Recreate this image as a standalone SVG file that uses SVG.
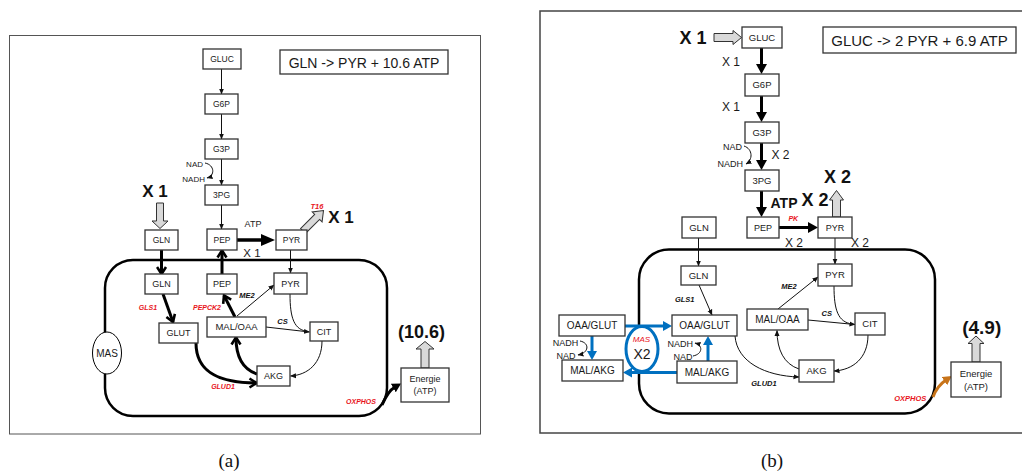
<svg xmlns="http://www.w3.org/2000/svg" width="1022" height="474" viewBox="0 0 1022 474">
<style>
.box{fill:#fff;stroke:#333;stroke-width:1.3}
.t{font-family:"Liberation Sans",Arial,sans-serif;text-anchor:middle;fill:#1a1a1a}
.s85{font-size:8.5px}.s9{font-size:9px}.s95{font-size:9.5px}
.thin{stroke:#111;stroke-width:1;fill:none;marker-end:url(#ah)}
.line{stroke:#111;stroke-width:1;fill:none}
.thick{stroke:#000;stroke-width:3;fill:none}
.chev{marker-end:url(#chev)}
.enz{font-family:"Liberation Sans",Arial,sans-serif;font-style:italic;font-weight:bold;font-size:7px;fill:#e8141c;text-anchor:middle}
.enzb{font-family:"Liberation Sans",Arial,sans-serif;font-style:italic;font-weight:bold;font-size:7.5px;fill:#111;text-anchor:middle}
.blue{stroke:#0070c0;stroke-width:3;fill:none;marker-end:url(#bl)}
.hollow{fill:#d9d9d9;stroke:#333;stroke-width:1}
.bold{font-family:"Liberation Sans",Arial,sans-serif;font-weight:bold;text-anchor:middle;fill:#111}
.mem{fill:none;stroke:#000;stroke-width:2.5}
</style>
<defs>
<marker id="ah" viewBox="0 0 6 6" refX="5.5" refY="3" markerWidth="6" markerHeight="6" markerUnits="userSpaceOnUse" orient="auto"><path d="M0,0.5 L6,3 L0,5.5z" fill="#111"/></marker>
<marker id="big" viewBox="0 0 10 11" refX="3" refY="5.5" markerWidth="10" markerHeight="11" markerUnits="userSpaceOnUse" orient="auto"><path d="M0,0 L10,5.5 L0,11z" fill="#000"/></marker>
<marker id="big14" viewBox="0 0 14 12" refX="3" refY="6" markerWidth="14" markerHeight="12" markerUnits="userSpaceOnUse" orient="auto"><path d="M0,0 L14,6 L0,12z" fill="#000"/></marker>
<marker id="bl" viewBox="0 0 9 10" refX="2" refY="5" markerWidth="9" markerHeight="10" markerUnits="userSpaceOnUse" orient="auto"><path d="M0,0 L9,5 L0,10z" fill="#0070c0"/></marker>
<marker id="or" viewBox="0 0 9 10" refX="2" refY="5" markerWidth="9" markerHeight="10" markerUnits="userSpaceOnUse" orient="auto"><path d="M0,0 L9,5 L0,10z" fill="#c8741a"/></marker>
<marker id="bk" viewBox="0 0 9 10" refX="2" refY="5" markerWidth="9" markerHeight="10" markerUnits="userSpaceOnUse" orient="auto"><path d="M0,0 L9,5 L0,10z" fill="#000"/></marker>
<marker id="chev" viewBox="0 0 12 12" refX="9" refY="6" markerWidth="12" markerHeight="12" markerUnits="userSpaceOnUse" orient="auto"><path d="M2,1.5 L9,6 L2,10.5" fill="none" stroke="#000" stroke-width="2.6"/></marker>
</defs>

<!-- frames -->
<rect x="9.5" y="35.5" width="471" height="398.5" fill="none" stroke="#555" stroke-width="1"/>
<rect x="540" y="11" width="490" height="422" fill="none" stroke="#444" stroke-width="1.5"/>

<!-- membranes -->
<rect id="membrane-a" class="mem" x="105" y="260" width="282" height="156" rx="28"/>
<rect id="membrane-b" class="mem" x="639" y="249.5" width="296" height="164" rx="30"/>

<!-- MAS ellipse b (below arrows) -->
<g id="mas-b"><ellipse cx="642" cy="349" rx="16" ry="22.5" fill="#fff" stroke="#0070c0" stroke-width="3"/>
<text x="641.5" y="342" style="font-family:'Liberation Sans',Arial,sans-serif;font-style:italic;font-size:8px;fill:#e8141c;text-anchor:middle">MAS</text>
<text class="t" style="font-size:14px" x="642" y="359">X2</text></g>

<!-- connectors -->
<g id="connectors">
  <!-- panel a -->
  <path class="thin" d="M221.5,69 V94"/>
  <path class="thin" d="M221.5,114 V139"/>
  <path class="thin" d="M221.5,159 V185"/>
  <path class="thin" d="M221.5,205 V229"/>
  <path class="thin" d="M205,163 C215,165 215,176 207,178"/>
  <path class="thick" style="stroke-width:3.5" marker-end="url(#big14)" d="M237,240 H264"/>
  <path class="thick chev" d="M161.5,250 V274"/>
  <path class="thick chev" d="M222,274 V250.5"/>
  <path class="thin" d="M290.5,250 V273"/>
  <path class="thick chev" d="M163,294 L173,322"/>
  <path class="thick chev" d="M235,317 L224,295.5"/>
  <path class="thin" d="M237,316 L274,285"/>
  <path class="thin" d="M266,327 L309.5,332"/>
  <path class="line" d="M290,294 C290,318 294,330 308,331.5"/>
  <path class="thin" d="M322,341 C322,363 308,375 290.5,376"/>
  <path class="thick chev" d="M257,374 C242,369 236,356 236,337.5"/>
  <path class="thick chev" d="M196,343 C196,374 222,383 256.5,383"/>
  <path class="thick" marker-end="url(#bk)" d="M382,405 Q388,391 395,387"/>
  <!-- panel b -->
  <path class="thick" marker-end="url(#big)" d="M761.5,48 V67"/>
  <path class="thick" marker-end="url(#big)" d="M761.5,96 V115"/>
  <path class="thick" marker-end="url(#big)" d="M761.5,143 V163"/>
  <path class="thick" marker-end="url(#big)" d="M761.5,191 V210"/>
  <path class="thin" d="M744,146 C753,149 753,160 746,164"/>
  <path class="thick" marker-end="url(#big)" d="M779,227.5 H811"/>
  <path class="thin" d="M698.5,238 V266"/>
  <path class="thin" d="M835,238 V264"/>
  <path class="thin" d="M699,285 L712,315"/>
  <path class="thin" d="M778,309 L818,277"/>
  <path class="thin" d="M808,320 L855,324.5"/>
  <path class="line" d="M834,286 C834,310 838,322 852,324"/>
  <path class="thin" d="M868,335 C868,358 853,370 834,371"/>
  <path class="thin" d="M799,369 C784,364 777,350 777,330.5"/>
  <path class="thin" d="M735,336 C737,362 765,376 799,377"/>
  <path class="blue" d="M625,326 H665"/>
  <path class="blue" d="M677,372.5 H630"/>
  <path class="blue" d="M592,336 V353"/>
  <path class="blue" d="M708,361 V343"/>
  <path class="thin" d="M580,341 C590,343 589,353 578,355"/>
  <path class="thin" d="M693,356 C703,354 703,345 695,343"/>
  <path stroke="#c8741a" stroke-width="3" fill="none" marker-end="url(#or)" d="M933,397 Q937,386 946,380"/>
</g>

<!-- hollow arrows -->
<g id="hollow-arrows">
  <polygon class="hollow" points="156.5,203 163.5,203 163.5,221 168,221 160,228.5 152,221 156.5,221"/>
  <polygon class="hollow" transform="translate(303,231) rotate(-45)" points="0,-3.5 20,-3.5 20,-7 29,0 20,7 20,3.5 0,3.5"/>
  <polygon class="hollow" points="421,368 421,349 416,349 425,341.5 434,349 429,349 429,368"/>
  <polygon class="hollow" points="714,33.5 733,33.5 733,30.5 741.5,37.5 733,44.5 733,41.5 714,41.5"/>
  <polygon class="hollow" points="832.5,217 832.5,200 829.5,200 836.5,190.5 843.5,200 840.5,200 840.5,217"/>
  <polygon class="hollow" points="972,362 972,343.5 968,343.5 976,336 984,343.5 980,343.5 980,362"/>
</g>

<!-- MAS ellipse a -->
<g id="mas-a"><ellipse cx="107" cy="353" rx="14.5" ry="21" fill="#fff" stroke="#000" stroke-width="1"/><text class="t" style="font-size:10px" x="107" y="356.5">MAS</text></g>

<!-- panel a nodes -->
<g id="a-gluc"><rect class="box" x="203" y="49" width="38" height="20"/><text class="t s85" x="222" y="62">GLUC</text></g>
<g id="a-g6p"><rect class="box" x="205" y="94" width="33" height="20"/><text class="t s85" x="221.5" y="107">G6P</text></g>
<g id="a-g3p"><rect class="box" x="205" y="139" width="33" height="20"/><text class="t s85" x="221.5" y="152">G3P</text></g>
<g id="a-3pg"><rect class="box" x="205" y="185" width="33" height="20"/><text class="t s85" x="221.5" y="198">3PG</text></g>
<g id="a-pep-out"><rect class="box" x="207" y="229" width="30" height="21"/><text class="t s85" x="222" y="242.5">PEP</text></g>
<g id="a-pyr-out"><rect class="box" x="276" y="230" width="31" height="20"/><text class="t s85" x="291.5" y="243">PYR</text></g>
<g id="a-gln-out"><rect class="box" x="145" y="230" width="33" height="20"/><text class="t s85" x="161.5" y="243">GLN</text></g>
<g id="a-gln-in"><rect class="box" x="145" y="274" width="33" height="20"/><text class="t s9" x="161.5" y="287.3">GLN</text></g>
<g id="a-pep-in"><rect class="box" x="207" y="274" width="30" height="20"/><text class="t s9" x="222" y="287.3">PEP</text></g>
<g id="a-pyr-in"><rect class="box" x="274" y="273" width="33" height="21"/><text class="t s9" x="290.5" y="286.8">PYR</text></g>
<g id="a-glut"><rect class="box" x="159" y="323" width="39" height="20"/><text class="t s9" x="178.5" y="336.3">GLUT</text></g>
<g id="a-maloaa"><rect class="box" x="207" y="317" width="59" height="20"/><text class="t" style="font-size:9.5px" x="236.5" y="330.4">MAL/OAA</text></g>
<g id="a-cit"><rect class="box" x="310" y="322" width="28" height="19"/><text class="t s9" x="324" y="334.8">CIT</text></g>
<g id="a-akg"><rect class="box" x="257" y="366" width="33" height="20"/><text class="t s9" x="273.5" y="379.3">AKG</text></g>
<g id="a-energie"><rect class="box" x="401" y="368" width="48" height="34"/><text class="t s9" x="425" y="381.5">Energie</text><text class="t s9" x="425" y="394">(ATP)</text></g>
<g id="a-summary"><rect class="box" x="280" y="50" width="168" height="24"/><text class="t" style="font-size:14px" x="364" y="67.5">GLN -&gt; PYR + 10.6 ATP</text></g>

<!-- panel a labels -->
<g id="a-labels">
  <text class="t" style="font-size:8px;text-anchor:end" x="203" y="167">NAD</text>
  <text class="t" style="font-size:8px;text-anchor:end" x="205" y="182">NADH</text>
  <text class="bold" style="font-size:17px" x="155" y="196.5">X 1</text>
  <text class="t" style="font-size:9px" x="253" y="226.5">ATP</text>
  <text class="t" style="font-size:11.5px" x="252" y="256.5">X 1</text>
  <text class="enz" style="font-size:7.5px" x="317" y="208.5">T16</text>
  <text class="bold" style="font-size:17px" x="341" y="223.3">X 1</text>
  <text class="bold" style="font-size:18px" x="421.5" y="338">(10.6)</text>
  <text class="enz" x="148" y="310">GLS1</text>
  <text class="enz" x="207" y="310">PEPCK2</text>
  <text class="enzb" x="247" y="297.5">ME2</text>
  <text class="enzb" x="282.5" y="323.5">CS</text>
  <text class="enz" x="223" y="389">GLUD1</text>
  <text class="enz" x="361" y="404">OXPHOS</text>
  <text x="229" y="467" style="font-family:'Liberation Serif',serif;font-size:19px;text-anchor:middle;fill:#111">(a)</text>
</g>

<!-- panel b nodes -->
<g id="b-gluc"><rect class="box" x="742" y="27" width="40" height="21"/><text class="t s95" x="762" y="40.8">GLUC</text></g>
<g id="b-g6p"><rect class="box" x="745" y="74" width="34" height="22"/><text class="t s95" x="762" y="88.3">G6P</text></g>
<g id="b-g3p"><rect class="box" x="745" y="122" width="34" height="21"/><text class="t s95" x="762" y="135.8">G3P</text></g>
<g id="b-3pg"><rect class="box" x="745" y="170" width="34" height="21"/><text class="t s95" x="762" y="183.8">3PG</text></g>
<g id="b-pep"><rect class="box" x="747" y="217" width="32" height="21"/><text class="t s9" x="763" y="230.8">PEP</text></g>
<g id="b-pyr-out"><rect class="box" x="818" y="217" width="34" height="21"/><text class="t s9" x="835" y="230.8">PYR</text></g>
<g id="b-gln-out"><rect class="box" x="682" y="217" width="34" height="21"/><text class="t s95" x="699" y="230.8">GLN</text></g>
<g id="b-gln-in"><rect class="box" x="681" y="266" width="35" height="19"/><text class="t s95" x="698.5" y="278.8">GLN</text></g>
<g id="b-pyr-in"><rect class="box" x="818" y="264" width="34" height="22"/><text class="t s95" x="835" y="278.3">PYR</text></g>
<g id="b-maloaa"><rect class="box" x="747" y="309" width="61" height="21"/><text class="t" style="font-size:10px" x="777.5" y="323">MAL/OAA</text></g>
<g id="b-cit"><rect class="box" x="855" y="313" width="30" height="22"/><text class="t s95" x="870" y="327.3">CIT</text></g>
<g id="b-akg"><rect class="box" x="799" y="360" width="35" height="22"/><text class="t s95" x="816.5" y="374.3">AKG</text></g>
<g id="b-oaaglut-in"><rect class="box" x="672" y="315" width="65" height="21"/><text class="t" style="font-size:10px" x="704.5" y="329">OAA/GLUT</text></g>
<g id="b-oaaglut-out"><rect class="box" x="559" y="315" width="66" height="21"/><text class="t" style="font-size:10px" x="592" y="329">OAA/GLUT</text></g>
<g id="b-malakg-out"><rect class="box" x="562" y="360" width="61" height="21"/><text class="t" style="font-size:10px" x="592.5" y="374">MAL/AKG</text></g>
<g id="b-malakg-in"><rect class="box" x="677" y="361" width="60" height="22"/><text class="t" style="font-size:10px" x="707" y="375.5">MAL/AKG</text></g>
<g id="b-energie"><rect class="box" x="951" y="362" width="50" height="35"/><text class="t s95" x="976" y="377">Energie</text><text class="t s95" x="976" y="389.5">(ATP)</text></g>
<g id="b-summary"><rect class="box" x="823" y="27" width="193" height="26"/><text class="t" style="font-size:15px" x="919.5" y="45.5">GLUC -&gt; 2 PYR + 6.9 ATP</text></g>

<!-- panel b labels -->
<g id="b-labels">
  <text class="bold" style="font-size:18px" x="693" y="44">X 1</text>
  <text class="t" style="font-size:12px" x="731" y="66">X 1</text>
  <text class="t" style="font-size:12px" x="731" y="111">X 1</text>
  <text class="t" style="font-size:9px;text-anchor:end" x="742" y="150">NAD</text>
  <text class="t" style="font-size:9px;text-anchor:end" x="743" y="167">NADH</text>
  <text class="t" style="font-size:12px" x="780.5" y="159.3">X 2</text>
  <text class="bold" style="font-size:14px" x="784" y="207.7">ATP</text>
  <text class="bold" style="font-size:18px" x="815" y="205.7">X 2</text>
  <text class="bold" style="font-size:18px" x="837.5" y="183.3">X 2</text>
  <text class="enz" x="793.3" y="221">PK</text>
  <text class="t" style="font-size:12px" x="794" y="246.5">X 2</text>
  <text class="t" style="font-size:12px" x="860" y="246.5">X 2</text>
  <text class="enzb" x="684.7" y="301.5">GLS1</text>
  <text class="enzb" x="789" y="289.3">ME2</text>
  <text class="enzb" x="826.7" y="315.5">CS</text>
  <text class="enzb" x="764" y="385.5">GLUD1</text>
  <text class="enz" style="font-size:7.5px" x="910.3" y="401">OXPHOS</text>
  <text class="bold" style="font-size:19px" x="981.7" y="334">(4.9)</text>
  <text class="t" style="font-size:9px" x="565.5" y="346">NADH</text>
  <text class="t" style="font-size:9px" x="566" y="359">NAD</text>
  <text class="t" style="font-size:9px" x="680.3" y="346.5">NADH</text>
  <text class="t" style="font-size:9px" x="683" y="360">NAD</text>
  <text x="772" y="467" style="font-family:'Liberation Serif',serif;font-size:19px;text-anchor:middle;fill:#111">(b)</text>
</g>
</svg>
